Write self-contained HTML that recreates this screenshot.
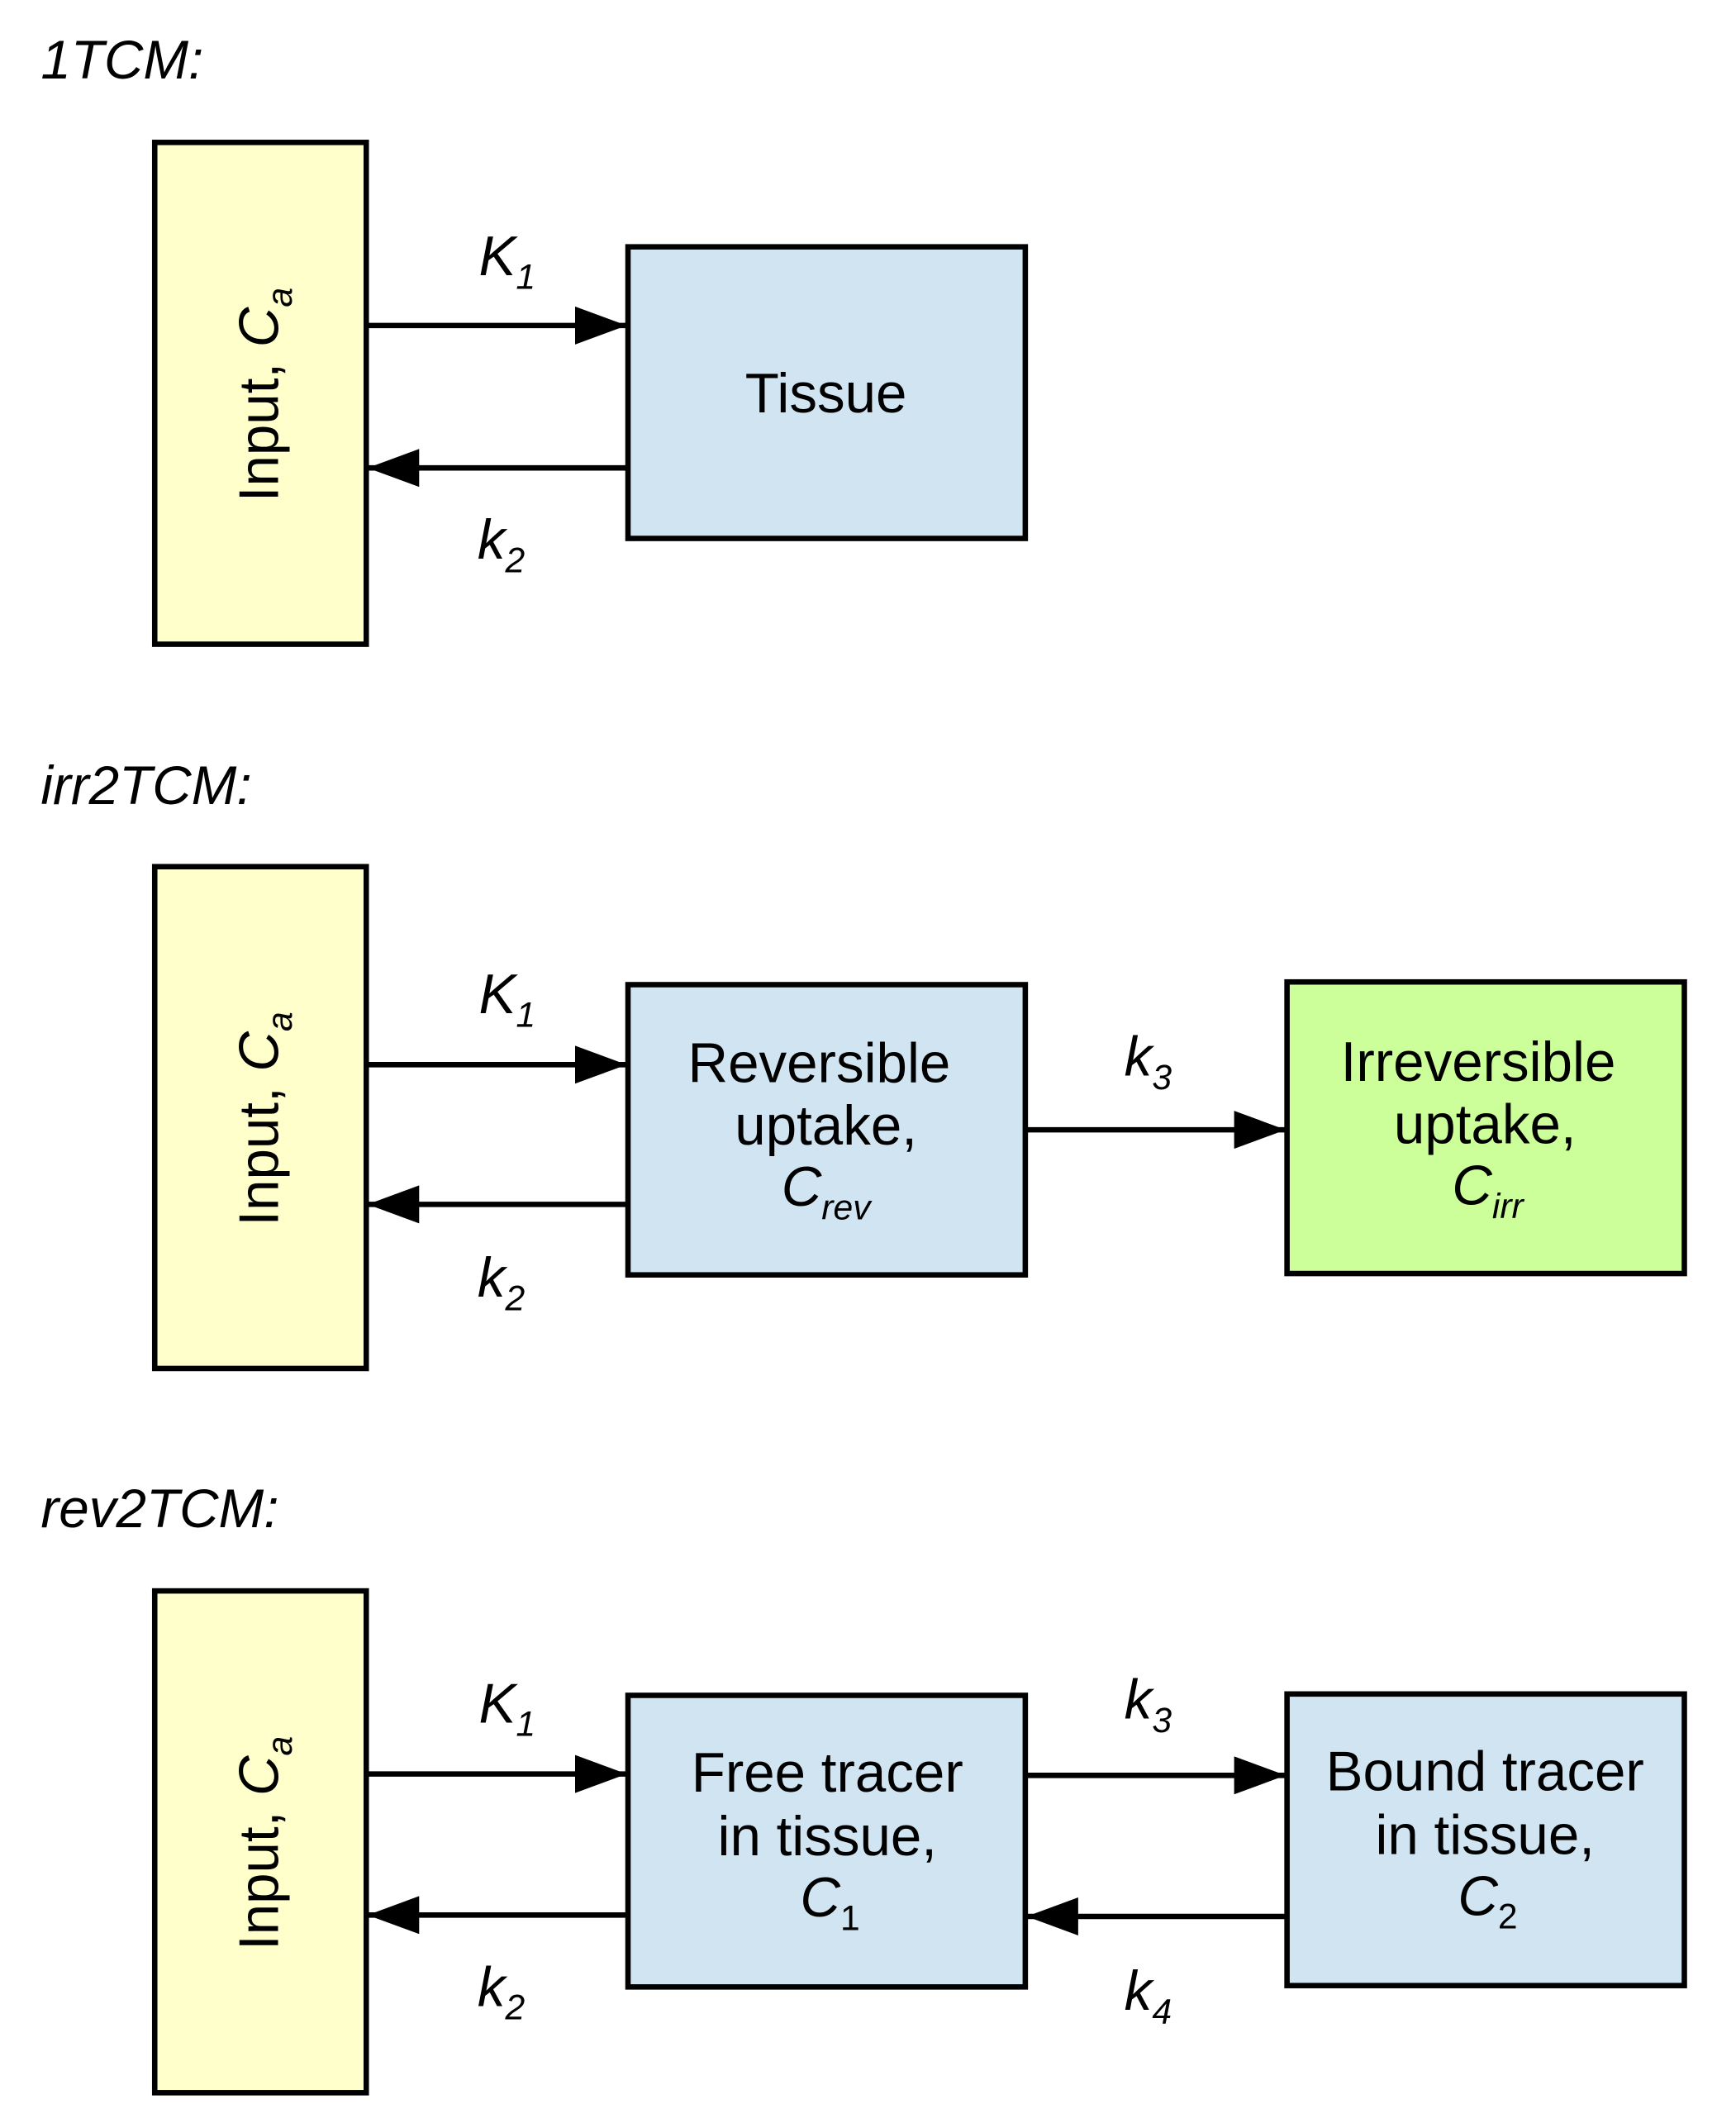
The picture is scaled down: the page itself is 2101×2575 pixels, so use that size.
<!DOCTYPE html>
<html><head><meta charset="utf-8"><style>
html,body{margin:0;padding:0;background:#fff;}
svg{display:block;}
text{font-family:"Liberation Sans",Arial,sans-serif;fill:#000;}
</style></head><body>
<svg width="2101" height="2575" viewBox="0 0 1280 1569" xmlns="http://www.w3.org/2000/svg">
<defs>
<marker id="ah" markerWidth="40" markerHeight="28" refX="38" refY="14" orient="auto" markerUnits="userSpaceOnUse">
<path d="M0,0 L38,14 L0,28 Z" fill="#000"/>
</marker>
</defs>
<g stroke="#000" stroke-width="4">
<rect x="114" y="105" width="156" height="370" fill="#ffffcc"/>
<rect x="463" y="182" width="293" height="215" fill="#d0e4f2"/>
<line x1="271" y1="240" x2="462" y2="240" marker-end="url(#ah)"/>
<line x1="462" y1="345" x2="271" y2="345" marker-end="url(#ah)"/>
<rect x="114" y="639" width="156" height="370" fill="#ffffcc"/>
<rect x="463" y="726" width="293" height="214" fill="#d0e4f2"/>
<rect x="949" y="724" width="293" height="215" fill="#ccff99"/>
<line x1="271" y1="785" x2="462" y2="785" marker-end="url(#ah)"/>
<line x1="462" y1="888" x2="271" y2="888" marker-end="url(#ah)"/>
<line x1="757" y1="833" x2="948" y2="833" marker-end="url(#ah)"/>
<rect x="114" y="1173" width="156" height="370" fill="#ffffcc"/>
<rect x="463" y="1250" width="293" height="215" fill="#d0e4f2"/>
<rect x="949" y="1249" width="293" height="215" fill="#d0e4f2"/>
<line x1="271" y1="1308" x2="462" y2="1308" marker-end="url(#ah)"/>
<line x1="462" y1="1412" x2="271" y2="1412" marker-end="url(#ah)"/>
<line x1="757" y1="1309" x2="948" y2="1309" marker-end="url(#ah)"/>
<line x1="948" y1="1413" x2="757" y2="1413" marker-end="url(#ah)"/>
</g>

<g font-style="italic" font-size="40">
<text x="30" y="58">1TCM:</text>
<text x="30" y="593">irr2TCM:</text>
<text x="30" y="1126">rev2TCM:</text>
</g>

<g font-size="41">
<text transform="translate(205,291) rotate(-90)" text-anchor="middle">Input, <tspan font-style="italic">C</tspan><tspan font-style="italic" font-size="26" dy="10">a</tspan></text>
<text transform="translate(205,825) rotate(-90)" text-anchor="middle">Input, <tspan font-style="italic">C</tspan><tspan font-style="italic" font-size="26" dy="10">a</tspan></text>
<text transform="translate(205,1359) rotate(-90)" text-anchor="middle">Input, <tspan font-style="italic">C</tspan><tspan font-style="italic" font-size="26" dy="10">a</tspan></text>
</g>

<g font-size="41" font-style="italic">
<text x="353" y="203">K<tspan font-size="26" dy="10">1</tspan></text>
<text x="352" y="412">k<tspan font-size="26" dy="10">2</tspan></text>
<text x="353" y="747">K<tspan font-size="26" dy="10">1</tspan></text>
<text x="352" y="956">k<tspan font-size="26" dy="10">2</tspan></text>
<text x="829" y="793">k<tspan font-size="26" dy="10">3</tspan></text>
<text x="353" y="1270">K<tspan font-size="26" dy="10">1</tspan></text>
<text x="352" y="1479">k<tspan font-size="26" dy="10">2</tspan></text>
<text x="829" y="1267">k<tspan font-size="26" dy="10">3</tspan></text>
<text x="829" y="1482">k<tspan font-size="26" dy="10">4</tspan></text>
</g>

<g font-size="41" text-anchor="middle">
<text x="609" y="304">Tissue</text>
<text x="604" y="798">Reversible</text>
<text x="609" y="844">uptake,</text>
<text x="609" y="889"><tspan font-style="italic">C</tspan><tspan font-style="italic" font-size="26" dy="10">rev</tspan></text>
<text x="1090" y="797">Irreversible</text>
<text x="1095" y="843">uptake,</text>
<text x="1097" y="888"><tspan font-style="italic">C</tspan><tspan font-style="italic" font-size="26" dy="10">irr</tspan></text>
<text x="610" y="1321">Free tracer</text>
<text x="610" y="1368">in tissue,</text>
<text x="612" y="1413"><tspan font-style="italic">C</tspan><tspan font-size="26" dy="10">1</tspan></text>
<text x="1095" y="1320">Bound tracer</text>
<text x="1095" y="1367">in tissue,</text>
<text x="1097" y="1412"><tspan font-style="italic">C</tspan><tspan font-size="26" dy="10">2</tspan></text>
</g>
</svg>
</body></html>
